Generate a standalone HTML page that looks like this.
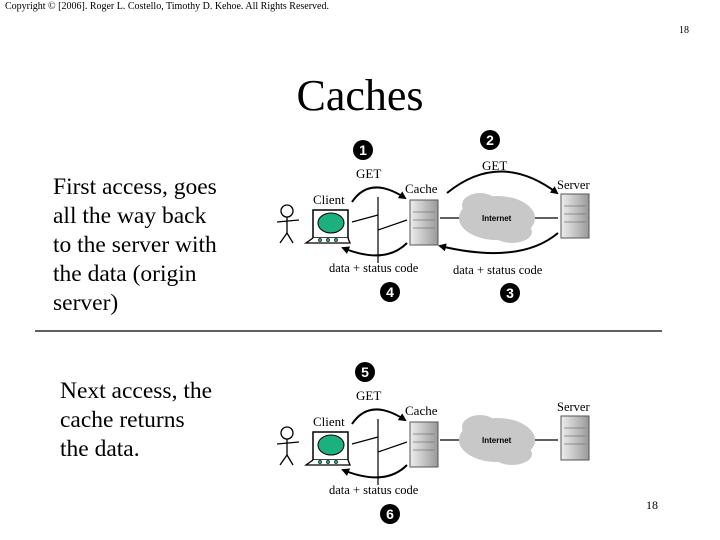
<!DOCTYPE html>
<html><head><style>
body{margin:0;background:#fff}
svg{display:block}
text{font-family:"Liberation Serif",serif;fill:#000}
</style></head><body>
<svg width="720" height="540" viewBox="0 0 720 540" xmlns="http://www.w3.org/2000/svg">
<defs>
<marker id="ah" markerWidth="8" markerHeight="8" refX="6" refY="4" orient="auto" markerUnits="userSpaceOnUse">
<path d="M0,0 L8,4 L0,8 z" fill="#000"/></marker>
<linearGradient id="tw" x1="0" x2="1"><stop offset="0" stop-color="#eee"/><stop offset="1" stop-color="#999"/></linearGradient>
<g id="diag">
 <g stroke="#000" stroke-width="1.3" fill="none">
  <circle cx="287" cy="211" r="6" fill="#fff"/>
  <line x1="287" y1="217" x2="287" y2="233"/>
  <line x1="277" y1="222" x2="299" y2="220"/>
  <line x1="287" y1="233" x2="280" y2="243"/>
  <line x1="287" y1="233" x2="293" y2="243"/>
 </g>
 <rect x="313" y="210" width="35" height="28" fill="#fff" stroke="#000" stroke-width="1.5"/>
 <ellipse cx="331" cy="223" rx="13" ry="10" fill="#1cb07f" stroke="#000"/>
 <path d="M313,238 L306,243 L350,243 L348,238" fill="#fff" stroke="#000" stroke-width="1.3"/>
 <circle cx="320" cy="240" r="1.6" fill="#1cb07f" stroke="#000" stroke-width=".6"/>
 <circle cx="328" cy="240" r="1.6" fill="#1cb07f" stroke="#000" stroke-width=".6"/>
 <circle cx="336" cy="240" r="1.6" fill="#1cb07f" stroke="#000" stroke-width=".6"/>
 <g stroke="#000" stroke-width="1.2">
  <line x1="378" y1="197" x2="378" y2="263"/>
  <line x1="352" y1="222" x2="378" y2="215"/>
  <line x1="378" y1="230" x2="407" y2="220"/>
  <line x1="440" y1="218" x2="462" y2="218"/>
  <line x1="532" y1="218" x2="558" y2="218"/>
 </g>
 <rect x="410" y="200" width="28" height="45" fill="url(#tw)" stroke="#555"/>
 <g stroke="#777" stroke-width=".8"><line x1="413" y1="212" x2="435" y2="212"/><line x1="413" y1="220" x2="435" y2="220"/><line x1="413" y1="228" x2="435" y2="228"/></g>
 <g fill="#c8c8c8">
  <ellipse cx="497" cy="218" rx="38" ry="22"/>
  <ellipse cx="480" cy="205" rx="18" ry="12"/>
  <ellipse cx="512" cy="232" rx="20" ry="11"/>
 </g>
 <text x="482" y="221" font-size="8" font-weight="bold" style="font-family:'Liberation Sans',sans-serif">Internet</text>
 <rect x="561" y="194" width="28" height="44" fill="url(#tw)" stroke="#555"/>
 <g stroke="#777" stroke-width=".8"><line x1="564" y1="206" x2="586" y2="206"/><line x1="564" y1="214" x2="586" y2="214"/><line x1="564" y1="222" x2="586" y2="222"/></g>
 <g stroke="#000" stroke-width="2" fill="none">
  <path d="M352,202 Q370,175 405,198" marker-end="url(#ah)"/>
  <path d="M407,243 Q385,265 343,248" marker-end="url(#ah)"/>
 </g>
 <text x="356" y="178" font-size="13">GET</text>
 <text x="313" y="204" font-size="13">Client</text>
 <text x="405" y="193" font-size="13">Cache</text>
 <text x="557" y="189" font-size="12.5">Server</text>
 <text x="329" y="272" font-size="12.5">data + status code</text>
</g>
</defs>
<text x="5" y="9" font-size="10">Copyright © [2006]. Roger L. Costello, Timothy D. Kehoe.  All Rights Reserved.</text>
<text x="679" y="33" font-size="10">18</text>
<text x="360" y="110" font-size="44" text-anchor="middle">Caches</text>
<g font-size="23.5">
<text x="53" y="194">First access, goes</text>
<text x="53" y="223">all the way back</text>
<text x="53" y="252">to the server with</text>
<text x="53" y="281">the data (origin</text>
<text x="53" y="310">server)</text>
<text x="60" y="398">Next access, the</text>
<text x="60" y="427">cache returns</text>
<text x="60" y="456">the data.</text>
</g>
<line x1="35" y1="331" x2="662" y2="331" stroke="#000" stroke-width="1.2"/>
<use href="#diag"/>
<use href="#diag" y="222"/>
<g stroke="#000" stroke-width="2" fill="none">
 <path d="M447,193 Q500,150 557,193" marker-end="url(#ah)"/>
 <path d="M558,233 Q520,265 440,246" marker-end="url(#ah)"/>
</g>
<text x="482" y="170" font-size="13">GET</text>
<text x="453" y="274" font-size="12.5">data + status code</text>
<g font-weight="bold" font-size="14">
<circle cx="363" cy="150" r="10"/><text x="363" y="155" text-anchor="middle" style="fill:#fff;font-family:'Liberation Sans',sans-serif">1</text>
<circle cx="490" cy="140" r="10"/><text x="490" y="145" text-anchor="middle" style="fill:#fff;font-family:'Liberation Sans',sans-serif">2</text>
<circle cx="390" cy="292" r="10"/><text x="390" y="297" text-anchor="middle" style="fill:#fff;font-family:'Liberation Sans',sans-serif">4</text>
<circle cx="510" cy="293" r="10"/><text x="510" y="298" text-anchor="middle" style="fill:#fff;font-family:'Liberation Sans',sans-serif">3</text>
<circle cx="365" cy="372" r="10"/><text x="365" y="377" text-anchor="middle" style="fill:#fff;font-family:'Liberation Sans',sans-serif">5</text>
<circle cx="390" cy="514" r="10"/><text x="390" y="519" text-anchor="middle" style="fill:#fff;font-family:'Liberation Sans',sans-serif">6</text>
</g>
<text x="646" y="509" font-size="12">18</text>
</svg>
</body></html>
